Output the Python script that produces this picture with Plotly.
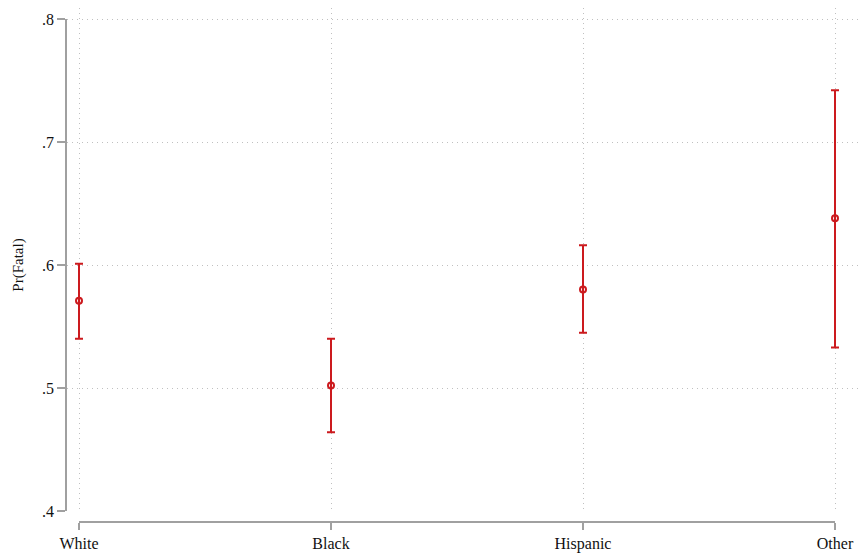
import plotly.graph_objects as go

categories = ["White", "Black", "Hispanic", "Other"]
estimates = [0.571, 0.502, 0.580, 0.638]
lower = [0.540, 0.464, 0.545, 0.533]
upper = [0.601, 0.540, 0.616, 0.742]
ytick_vals = [0.4, 0.5, 0.6, 0.7, 0.8]
ytick_text = [".4", ".5", ".6", ".7", ".8"]

W, H = 858, 554
RED = "#cc1a1e"
GRID = "#c0c0c0"
AXIS = "#a0a0a0"
FONT = dict(family="Liberation Serif, Times New Roman, serif", size=16, color="#111111")

xs = list(range(len(categories)))
err_plus = [u - e for u, e in zip(upper, estimates)]
err_minus = [e - l for e, l in zip(estimates, lower)]

# pixel geometry
x0_px, x3_px = 79, 835
px_per_cat = (x3_px - x0_px) / (len(categories) - 1)
plot_left, plot_right = 67, W
y8_px, y4_px = 19, 511
px_per_unit = (y4_px - y8_px) / 0.4
plot_top = 8

fig = go.Figure()
# invisible trace to host display axes
fig.add_trace(go.Scatter(
    x=xs, y=estimates, mode="markers", marker=dict(opacity=0),
    showlegend=False, hoverinfo="skip", xaxis="x2", yaxis="y2",
))
fig.add_trace(go.Scatter(
    x=xs, y=estimates, mode="markers",
    marker=dict(symbol="circle-open", size=6, color=RED, line=dict(width=2, color=RED)),
    error_y=dict(type="data", array=err_plus, arrayminus=err_minus,
                 thickness=2, width=4, color=RED),
    showlegend=False, hoverinfo="skip",
    xaxis="x", yaxis="y",
))

fig.update_layout(
    width=W, height=H,
    margin=dict(l=0, r=0, t=0, b=0, autoexpand=False),
    paper_bgcolor="white", plot_bgcolor="rgba(0,0,0,0)",
    font=FONT,
    xaxis=dict(
        domain=[plot_left / W, 1],
        range=[(plot_left - x0_px) / px_per_cat, (plot_right - x0_px) / px_per_cat],
        tickvals=xs, showticklabels=False, ticks="",
        showgrid=True, gridcolor=GRID, griddash="1px,4px", gridwidth=1,
        zeroline=False, showline=False, automargin=False,
    ),
    yaxis=dict(
        domain=[(H - y4_px) / H, (H - plot_top) / H],
        range=[0.4, 0.4 + (y4_px - plot_top) / px_per_unit],
        tickvals=ytick_vals, showticklabels=False, ticks="",
        showgrid=True, gridcolor=GRID, griddash="1px,4px", gridwidth=1,
        zeroline=False, showline=False, automargin=False,
    ),
    xaxis2=dict(
        domain=[x0_px / W, x3_px / W],
        range=[0, len(categories) - 1],
        anchor="free", position=(H - 522) / H,
        tickvals=xs, ticktext=categories,
        ticks="outside", ticklen=7, tickwidth=1.5, tickcolor=AXIS,
        showline=True, linecolor=AXIS, linewidth=1.5,
        showgrid=False, zeroline=False, tickfont=FONT, automargin=False,
    ),
    yaxis2=dict(
        domain=[(H - y4_px) / H, (H - y8_px) / H],
        range=[0.4, 0.8],
        anchor="free", position=66 / W,
        tickvals=ytick_vals, ticktext=ytick_text,
        ticks="outside", ticklen=8, tickwidth=1.5, tickcolor=AXIS,
        showline=True, linecolor=AXIS, linewidth=1.5,
        showgrid=False, zeroline=False, tickfont=FONT, automargin=False,
        title=dict(text="Pr(Fatal)", font=dict(family=FONT["family"], size=15, color="#111111"), standoff=14),
    ),
)

fig.write_html("out.html")
